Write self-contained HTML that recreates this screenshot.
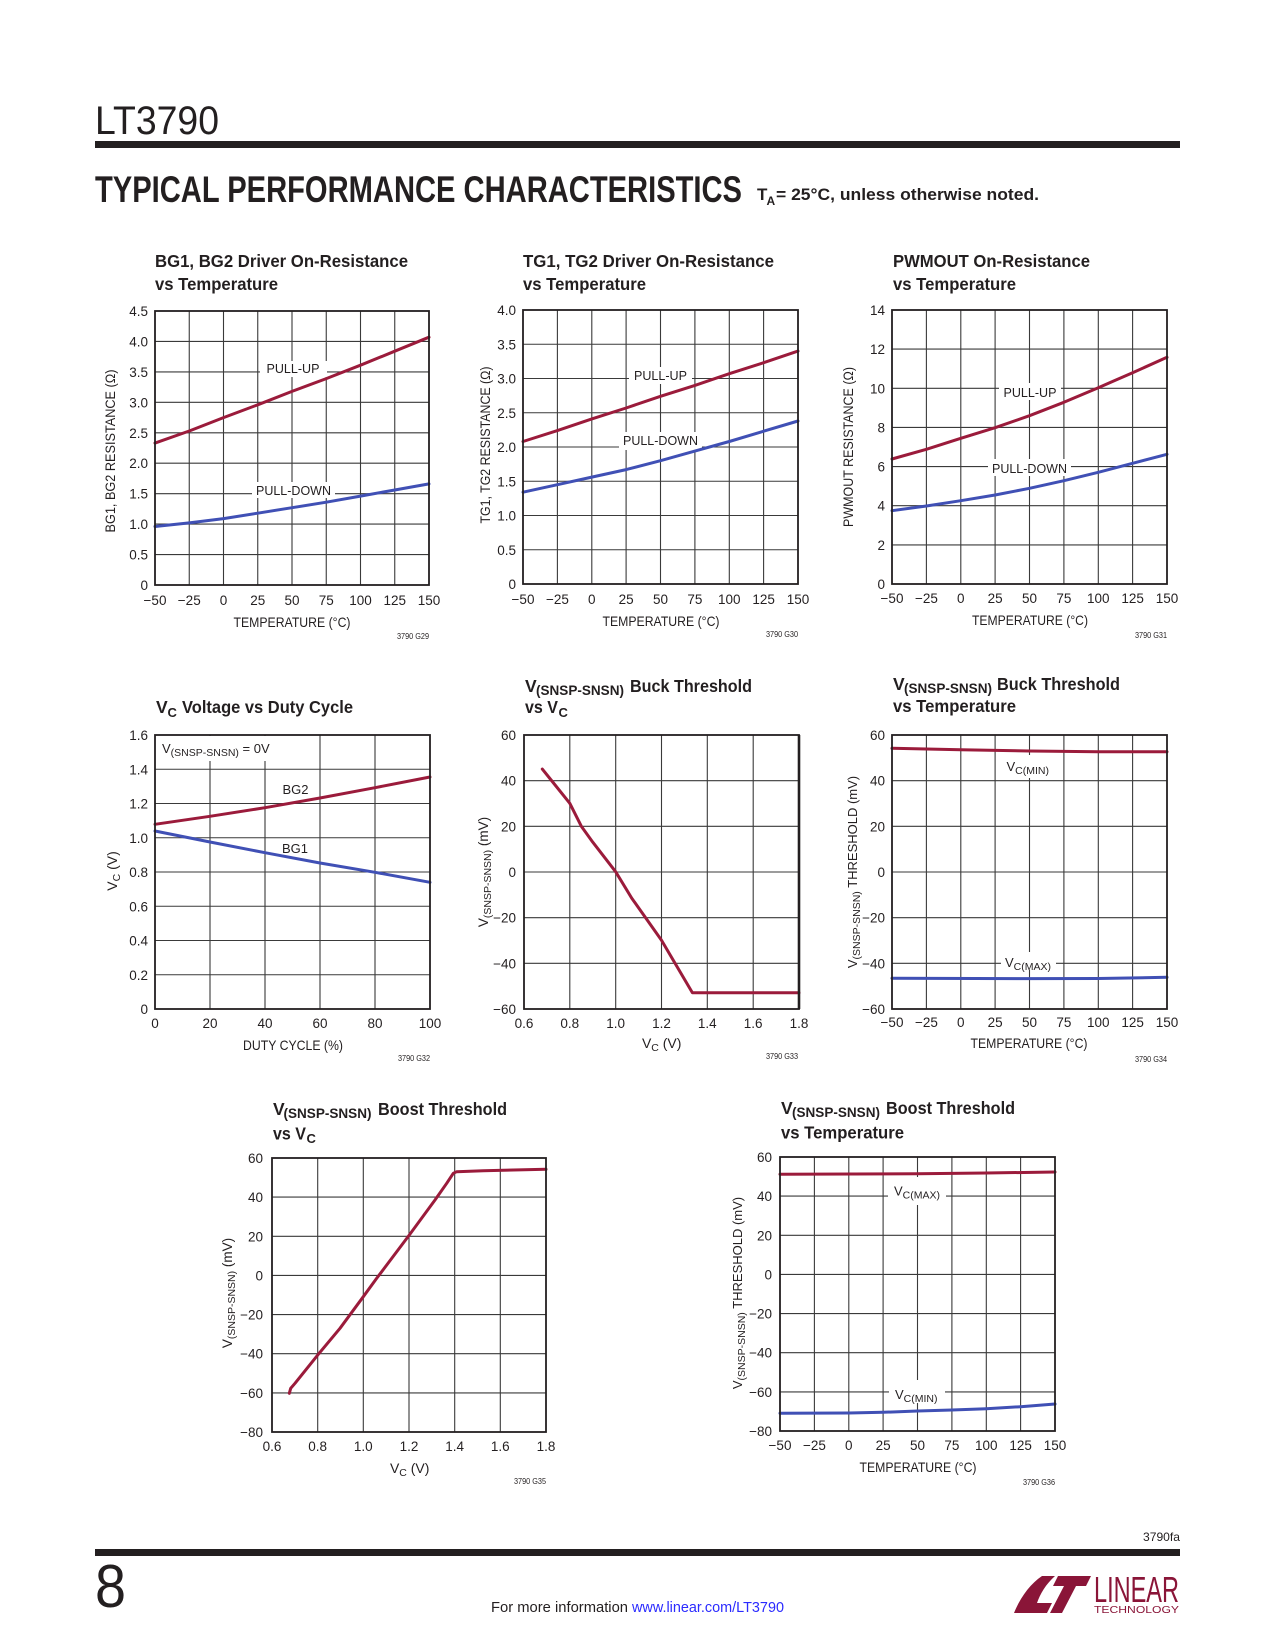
<!DOCTYPE html>
<html><head><meta charset="utf-8">
<style>
html,body{margin:0;padding:0;background:#fff;}
svg{display:block;}
text{font-family:"Liberation Sans",Arial,sans-serif;fill:#231f20;}
.g{stroke:#3a3a3a;stroke-width:1.1;fill:none;}
.f{stroke:#231f20;stroke-width:1.8;fill:none;}
.r{stroke:#9b1b3b;stroke-width:3;fill:none;stroke-linejoin:round;stroke-linecap:round;}
.b{stroke:#4050b5;stroke-width:3;fill:none;stroke-linejoin:round;stroke-linecap:round;}
.t{font-size:13.5px;}
.tt{font-size:17.5px;font-weight:bold;}
.ax{font-size:14px;}
.lb{font-size:13px;}
.id{font-size:8px;}
.w{fill:#fff;stroke:none;}
</style></head>
<body>
<svg width="1275" height="1650" viewBox="0 0 1275 1650" xmlns="http://www.w3.org/2000/svg">
<rect width="1275" height="1650" fill="#fff"/>

<!-- HEADER -->
<text x="95" y="134" style="font-size:40px;" textLength="124" lengthAdjust="spacingAndGlyphs">LT3790</text>
<rect x="95" y="141" width="1085" height="7" fill="#231f20"/>
<text x="95" y="202" style="font-size:37px;font-weight:bold;" textLength="647" lengthAdjust="spacingAndGlyphs">TYPICAL PERFORMANCE CHARACTERISTICS</text>
<text x="757" y="200" style="font-size:17px;font-weight:bold;">T</text>
<text x="766.5" y="205" style="font-size:12px;font-weight:bold;">A</text>
<text x="776" y="200" style="font-size:17px;font-weight:bold;" textLength="263" lengthAdjust="spacingAndGlyphs">= 25°C, unless otherwise noted.</text>

<!-- ================= CHART A ================= -->
<text x="155" y="267" class="tt" textLength="253" lengthAdjust="spacingAndGlyphs">BG1, BG2 Driver On-Resistance</text>
<text x="155" y="290" class="tt" textLength="123" lengthAdjust="spacingAndGlyphs">vs Temperature</text>
<path class="g" d="M189.25 311V585M223.5 311V585M257.75 311V585M292 311V585M326.25 311V585M360.5 311V585M394.75 311V585M155 341.44H429M155 371.89H429M155 402.33H429M155 432.78H429M155 463.22H429M155 493.67H429M155 524.11H429M155 554.56H429"/>
<rect class="w" x="260" y="361" width="67" height="16"/>
<rect class="w" x="252" y="482" width="83" height="16"/>
<polyline class="r" points="155,443.1 189.25,431 223.5,417.6 257.75,404.8 292,391.4 326.25,378.6 360.5,365.2 394.75,351.2 429,337.2"/>
<polyline class="b" points="155,526.5 189.25,522.9 223.5,518.6 257.75,513.2 292,507.7 326.25,502.2 360.5,496.1 394.75,490 429,483.9"/>
<rect class="f" x="155" y="311" width="274" height="274"/>
<text x="293" y="373" class="lb" text-anchor="middle" textLength="53" lengthAdjust="spacingAndGlyphs">PULL-UP</text>
<text x="293.5" y="495" class="lb" text-anchor="middle" textLength="75" lengthAdjust="spacingAndGlyphs">PULL-DOWN</text>
<g class="t" text-anchor="end">
<text x="148" y="316">4.5</text><text x="148" y="346.4">4.0</text><text x="148" y="376.9">3.5</text><text x="148" y="407.3">3.0</text><text x="148" y="437.8">2.5</text><text x="148" y="468.2">2.0</text><text x="148" y="498.7">1.5</text><text x="148" y="529.1">1.0</text><text x="148" y="559.6">0.5</text><text x="148" y="590">0</text>
</g>
<g class="t" text-anchor="middle">
<text x="155" y="605">−50</text><text x="189.25" y="605">−25</text><text x="223.5" y="605">0</text><text x="257.75" y="605">25</text><text x="292" y="605">50</text><text x="326.25" y="605">75</text><text x="360.5" y="605">100</text><text x="394.75" y="605">125</text><text x="429" y="605">150</text>
</g>
<text x="292" y="627" class="ax" text-anchor="middle" textLength="117" lengthAdjust="spacingAndGlyphs">TEMPERATURE (°C)</text>
<text transform="translate(115,451) rotate(-90)" class="ax" text-anchor="middle" textLength="163" lengthAdjust="spacingAndGlyphs">BG1, BG2 RESISTANCE (Ω)</text>
<text x="429" y="639" class="id" text-anchor="end" textLength="32" lengthAdjust="spacingAndGlyphs">3790 G29</text>

<!-- ================= CHART B ================= -->
<text x="523" y="267" class="tt" textLength="251" lengthAdjust="spacingAndGlyphs">TG1, TG2 Driver On-Resistance</text>
<text x="523" y="290" class="tt" textLength="123" lengthAdjust="spacingAndGlyphs">vs Temperature</text>
<path class="g" d="M557.4 310V584M591.8 310V584M626.1 310V584M660.5 310V584M694.9 310V584M729.3 310V584M763.6 310V584M523 344.25H798M523 378.5H798M523 412.75H798M523 447H798M523 481.25H798M523 515.5H798M523 549.75H798"/>
<rect class="w" x="629" y="367" width="63" height="17"/>
<rect class="w" x="619" y="432" width="83" height="18"/>
<polyline class="r" points="523,441.5 557.4,430.6 591.8,418.9 626.1,408 660.5,396.3 694.9,385.4 729.3,373.7 763.6,362.7 798,351.1"/>
<polyline class="b" points="523,492.2 557.4,484.7 591.8,477.1 626.1,469.6 660.5,460.7 694.9,451.1 729.3,441.5 763.6,431.2 798,421"/>
<rect class="f" x="523" y="310" width="275" height="274"/>
<text x="660.5" y="380" class="lb" text-anchor="middle" textLength="53" lengthAdjust="spacingAndGlyphs">PULL-UP</text>
<text x="660.5" y="445" class="lb" text-anchor="middle" textLength="75" lengthAdjust="spacingAndGlyphs">PULL-DOWN</text>
<g class="t" text-anchor="end">
<text x="516" y="315">4.0</text><text x="516" y="349.3">3.5</text><text x="516" y="383.5">3.0</text><text x="516" y="417.8">2.5</text><text x="516" y="452">2.0</text><text x="516" y="486.3">1.5</text><text x="516" y="520.5">1.0</text><text x="516" y="554.8">0.5</text><text x="516" y="589">0</text>
</g>
<g class="t" text-anchor="middle">
<text x="523" y="604">−50</text><text x="557.4" y="604">−25</text><text x="591.8" y="604">0</text><text x="626.1" y="604">25</text><text x="660.5" y="604">50</text><text x="694.9" y="604">75</text><text x="729.3" y="604">100</text><text x="763.6" y="604">125</text><text x="798" y="604">150</text>
</g>
<text x="661" y="626" class="ax" text-anchor="middle" textLength="117" lengthAdjust="spacingAndGlyphs">TEMPERATURE (°C)</text>
<text transform="translate(490,445) rotate(-90)" class="ax" text-anchor="middle" textLength="157" lengthAdjust="spacingAndGlyphs">TG1, TG2 RESISTANCE (Ω)</text>
<text x="798" y="637" class="id" text-anchor="end" textLength="32" lengthAdjust="spacingAndGlyphs">3790 G30</text>

<!-- ================= CHART C ================= -->
<text x="893" y="267" class="tt" textLength="197" lengthAdjust="spacingAndGlyphs">PWMOUT On-Resistance</text>
<text x="893" y="290" class="tt" textLength="123" lengthAdjust="spacingAndGlyphs">vs Temperature</text>
<path class="g" d="M926.4 310V584M960.8 310V584M995.1 310V584M1029.5 310V584M1063.9 310V584M1098.3 310V584M1132.6 310V584M892 349.1H1167M892 388.3H1167M892 427.4H1167M892 466.6H1167M892 505.7H1167M892 544.9H1167"/>
<rect class="w" x="999" y="383" width="62" height="17"/>
<rect class="w" x="988" y="459" width="83" height="17"/>
<polyline class="r" points="892,459 926.4,449.3 960.8,438.3 995.1,427.7 1029.5,415.7 1063.9,402.3 1098.3,387.7 1132.6,372.7 1167,357.3"/>
<polyline class="b" points="892,510.7 926.4,506 960.8,500.7 995.1,495 1029.5,488.3 1063.9,480.7 1098.3,472.3 1132.6,463.3 1167,454.3"/>
<rect class="f" x="892" y="310" width="275" height="274"/>
<text x="1030" y="397" class="lb" text-anchor="middle" textLength="53" lengthAdjust="spacingAndGlyphs">PULL-UP</text>
<text x="1029.5" y="473" class="lb" text-anchor="middle" textLength="75" lengthAdjust="spacingAndGlyphs">PULL-DOWN</text>
<g class="t" text-anchor="end">
<text x="885" y="315">14</text><text x="885" y="354.1">12</text><text x="885" y="393.3">10</text><text x="885" y="432.4">8</text><text x="885" y="471.6">6</text><text x="885" y="510.7">4</text><text x="885" y="549.9">2</text><text x="885" y="589">0</text>
</g>
<g class="t" text-anchor="middle">
<text x="892" y="603">−50</text><text x="926.4" y="603">−25</text><text x="960.8" y="603">0</text><text x="995.1" y="603">25</text><text x="1029.5" y="603">50</text><text x="1063.9" y="603">75</text><text x="1098.3" y="603">100</text><text x="1132.6" y="603">125</text><text x="1167" y="603">150</text>
</g>
<text x="1030" y="625" class="ax" text-anchor="middle" textLength="116" lengthAdjust="spacingAndGlyphs">TEMPERATURE (°C)</text>
<text transform="translate(853,447) rotate(-90)" class="ax" text-anchor="middle" textLength="160" lengthAdjust="spacingAndGlyphs">PWMOUT RESISTANCE (Ω)</text>
<text x="1167" y="638" class="id" text-anchor="end" textLength="32" lengthAdjust="spacingAndGlyphs">3790 G31</text>

<!-- ================= CHART D ================= -->
<text x="156" y="713" class="tt">V</text>
<text x="167.5" y="717" style="font-size:13px;font-weight:bold;">C</text>
<text x="182" y="713" class="tt" textLength="171" lengthAdjust="spacingAndGlyphs">Voltage vs Duty Cycle</text>
<path class="g" d="M210 735V1009M265 735V1009M320 735V1009M375 735V1009M155 769.25H430M155 803.5H430M155 837.75H430M155 872H430M155 906.25H430M155 940.5H430M155 974.75H430"/>
<rect class="w" x="156" y="736" width="112" height="25"/>
<polyline class="r" points="155,824.3 210,816.3 265,807.7 320,798 375,787.7 430,777"/>
<polyline class="b" points="155,831 210,842 265,852.7 320,863 375,872.3 430,882.3"/>
<rect class="f" x="155" y="735" width="275" height="274"/>
<text x="162" y="753" class="lb">V<tspan dy="3" style="font-size:10.5px;">(SNSP-SNSN)</tspan><tspan dy="-3"> = 0V</tspan></text>
<text x="295.5" y="794" class="lb" text-anchor="middle">BG2</text>
<text x="295" y="853" class="lb" text-anchor="middle">BG1</text>
<g class="t" text-anchor="end">
<text x="148" y="740">1.6</text><text x="148" y="774.3">1.4</text><text x="148" y="808.5">1.2</text><text x="148" y="842.8">1.0</text><text x="148" y="877">0.8</text><text x="148" y="911.3">0.6</text><text x="148" y="945.5">0.4</text><text x="148" y="979.8">0.2</text><text x="148" y="1014">0</text>
</g>
<g class="t" text-anchor="middle">
<text x="155" y="1028">0</text><text x="210" y="1028">20</text><text x="265" y="1028">40</text><text x="320" y="1028">60</text><text x="375" y="1028">80</text><text x="430" y="1028">100</text>
</g>
<text x="293" y="1050" class="ax" text-anchor="middle" textLength="100" lengthAdjust="spacingAndGlyphs">DUTY CYCLE (%)</text>
<text transform="translate(117,871) rotate(-90)" class="ax" text-anchor="middle">V<tspan dy="3" style="font-size:10.5px;">C</tspan><tspan dy="-3"> (V)</tspan></text>
<text x="430" y="1061" class="id" text-anchor="end" textLength="32" lengthAdjust="spacingAndGlyphs">3790 G32</text>

<!-- ================= CHART E ================= -->
<text x="525" y="692" class="tt">V</text>
<text x="536" y="695" style="font-size:14px;font-weight:bold;" textLength="88" lengthAdjust="spacingAndGlyphs">(SNSP-SNSN)</text>
<text x="630" y="692" class="tt" textLength="122" lengthAdjust="spacingAndGlyphs">Buck Threshold</text>
<text x="525" y="713" class="tt" textLength="33" lengthAdjust="spacingAndGlyphs">vs V</text>
<text x="558.5" y="717" style="font-size:13px;font-weight:bold;">C</text>
<path class="g" d="M569.8 735V1009M615.7 735V1009M661.5 735V1009M707.3 735V1009M753.2 735V1009M524 780.7H799M524 826.3H799M524 872H799M524 917.7H799M524 963.3H799"/>
<polyline class="r" points="542.3,769.1 551.5,780.5 569.8,803.3 581.3,826.2 592.8,842.2 615.7,871.8 631.7,898.1 661.5,940.3 692.4,992.8 693.6,992.8 799,992.8"/>
<rect class="f" x="524" y="735" width="275" height="274"/>
<line x1="799" y1="735" x2="799" y2="1009" stroke="#231f20" stroke-width="2.6"/>
<g class="t" text-anchor="end">
<text x="516" y="740">60</text><text x="516" y="785.7">40</text><text x="516" y="831.3">20</text><text x="516" y="877">0</text><text x="516" y="922.7">−20</text><text x="516" y="968.3">−40</text><text x="516" y="1014">−60</text>
</g>
<g class="t" text-anchor="middle">
<text x="524" y="1028">0.6</text><text x="569.8" y="1028">0.8</text><text x="615.7" y="1028">1.0</text><text x="661.5" y="1028">1.2</text><text x="707.3" y="1028">1.4</text><text x="753.2" y="1028">1.6</text><text x="799" y="1028">1.8</text>
</g>
<text x="661.7" y="1048" class="ax" text-anchor="middle">V<tspan dy="3" style="font-size:10.5px;">C</tspan><tspan dy="-3"> (V)</tspan></text>
<text transform="translate(488,872) rotate(-90)" style="font-size:13.5px;" text-anchor="middle">V<tspan dy="3" style="font-size:10.5px;">(SNSP-SNSN)</tspan><tspan dy="-3"> (mV)</tspan></text>
<text x="798" y="1059" class="id" text-anchor="end" textLength="32" lengthAdjust="spacingAndGlyphs">3790 G33</text>

<!-- ================= CHART F ================= -->
<text x="893" y="690" class="tt">V</text>
<text x="904" y="693" style="font-size:14px;font-weight:bold;" textLength="88" lengthAdjust="spacingAndGlyphs">(SNSP-SNSN)</text>
<text x="997" y="690" class="tt" textLength="123" lengthAdjust="spacingAndGlyphs">Buck Threshold</text>
<text x="893" y="712" class="tt" textLength="123" lengthAdjust="spacingAndGlyphs">vs Temperature</text>
<path class="g" d="M926.4 735V1009M960.8 735V1009M995.1 735V1009M1029.5 735V1009M1063.9 735V1009M1098.3 735V1009M1132.6 735V1009M892 780.7H1167M892 826.3H1167M892 872H1167M892 917.7H1167M892 963.3H1167"/>
<rect class="w" x="1002" y="755" width="53" height="23"/>
<rect class="w" x="1001" y="952" width="55" height="18"/>
<polyline class="r" points="892,748.3 960.8,749.8 1029.5,751 1098.3,751.7 1167,751.7"/>
<polyline class="b" points="892,978.3 1029.5,978.6 1098.3,978.5 1167,977.3"/>
<rect class="f" x="892" y="735" width="275" height="274"/>
<text x="1006.5" y="771" class="lb">V<tspan dy="3" style="font-size:10.5px;">C(MIN)</tspan></text>
<text x="1005" y="967" class="lb">V<tspan dy="3" style="font-size:10.5px;">C(MAX)</tspan></text>
<g class="t" text-anchor="end">
<text x="885" y="740">60</text><text x="885" y="785.7">40</text><text x="885" y="831.3">20</text><text x="885" y="877">0</text><text x="885" y="922.7">−20</text><text x="885" y="968.3">−40</text><text x="885" y="1014">−60</text>
</g>
<g class="t" text-anchor="middle">
<text x="892" y="1027">−50</text><text x="926.4" y="1027">−25</text><text x="960.8" y="1027">0</text><text x="995.1" y="1027">25</text><text x="1029.5" y="1027">50</text><text x="1063.9" y="1027">75</text><text x="1098.3" y="1027">100</text><text x="1132.6" y="1027">125</text><text x="1167" y="1027">150</text>
</g>
<text x="1029" y="1048" class="ax" text-anchor="middle" textLength="117" lengthAdjust="spacingAndGlyphs">TEMPERATURE (°C)</text>
<text transform="translate(857,872) rotate(-90)" style="font-size:13px;" text-anchor="middle">V<tspan dy="3" style="font-size:10.5px;">(SNSP-SNSN)</tspan><tspan dy="-3"> THRESHOLD (mV)</tspan></text>
<text x="1167" y="1062" class="id" text-anchor="end" textLength="32" lengthAdjust="spacingAndGlyphs">3790 G34</text>

<!-- ================= CHART G ================= -->
<text x="273" y="1115" class="tt">V</text>
<text x="283.5" y="1118" style="font-size:14px;font-weight:bold;" textLength="88" lengthAdjust="spacingAndGlyphs">(SNSP-SNSN)</text>
<text x="378" y="1115" class="tt" textLength="129" lengthAdjust="spacingAndGlyphs">Boost Threshold</text>
<text x="273" y="1139.5" class="tt" textLength="33" lengthAdjust="spacingAndGlyphs">vs V</text>
<text x="306.5" y="1143" style="font-size:13px;font-weight:bold;">C</text>
<path class="g" d="M317.7 1158V1432M363.3 1158V1432M409 1158V1432M454.7 1158V1432M500.3 1158V1432M272 1197.1H546M272 1236.3H546M272 1275.4H546M272 1314.6H546M272 1353.7H546M272 1392.9H546"/>
<polyline class="r" points="289.3,1393.3 290.7,1388.3 295,1383.3 318.3,1354.3 340,1328.3 363.3,1296.7 376.7,1278.3 409.3,1235 435,1200 446.7,1183.3 453.3,1173.3 456.7,1171.7 483.3,1170.7 546,1169.3"/>
<rect class="f" x="272" y="1158" width="274" height="274"/>
<g class="t" text-anchor="end">
<text x="263" y="1163">60</text><text x="263" y="1202.1">40</text><text x="263" y="1241.3">20</text><text x="263" y="1280.4">0</text><text x="263" y="1319.6">−20</text><text x="263" y="1358.7">−40</text><text x="263" y="1397.9">−60</text><text x="263" y="1437">−80</text>
</g>
<g class="t" text-anchor="middle">
<text x="272" y="1451">0.6</text><text x="317.7" y="1451">0.8</text><text x="363.3" y="1451">1.0</text><text x="409" y="1451">1.2</text><text x="454.7" y="1451">1.4</text><text x="500.3" y="1451">1.6</text><text x="546" y="1451">1.8</text>
</g>
<text x="409.7" y="1473" class="ax" text-anchor="middle">V<tspan dy="3" style="font-size:10.5px;">C</tspan><tspan dy="-3"> (V)</tspan></text>
<text transform="translate(232,1293) rotate(-90)" style="font-size:13.5px;" text-anchor="middle">V<tspan dy="3" style="font-size:10.5px;">(SNSP-SNSN)</tspan><tspan dy="-3"> (mV)</tspan></text>
<text x="546" y="1484" class="id" text-anchor="end" textLength="32" lengthAdjust="spacingAndGlyphs">3790 G35</text>

<!-- ================= CHART H ================= -->
<text x="781" y="1114" class="tt">V</text>
<text x="792" y="1117" style="font-size:14px;font-weight:bold;" textLength="88" lengthAdjust="spacingAndGlyphs">(SNSP-SNSN)</text>
<text x="886" y="1114" class="tt" textLength="129" lengthAdjust="spacingAndGlyphs">Boost Threshold</text>
<text x="781" y="1138.5" class="tt" textLength="123" lengthAdjust="spacingAndGlyphs">vs Temperature</text>
<path class="g" d="M814.4 1157V1431M848.8 1157V1431M883.1 1157V1431M917.5 1157V1431M951.9 1157V1431M986.3 1157V1431M1020.6 1157V1431M780 1196.1H1055M780 1235.3H1055M780 1274.4H1055M780 1313.6H1055M780 1352.7H1055M780 1391.9H1055"/>
<rect class="w" x="888" y="1177" width="58" height="28"/>
<rect class="w" x="889" y="1380" width="56" height="23"/>
<polyline class="r" points="780,1174.3 917.5,1173.8 986.3,1173 1055,1172"/>
<polyline class="b" points="780,1413.3 848.8,1413 883.1,1412.3 917.5,1411 951.9,1410 986.3,1408.7 1020.6,1406.7 1055,1404"/>
<rect class="f" x="780" y="1157" width="275" height="274"/>
<text x="894" y="1195.7" class="lb">V<tspan dy="3" style="font-size:10.5px;">C(MAX)</tspan></text>
<text x="895" y="1399" class="lb">V<tspan dy="3" style="font-size:10.5px;">C(MIN)</tspan></text>
<g class="t" text-anchor="end">
<text x="772" y="1162">60</text><text x="772" y="1201.1">40</text><text x="772" y="1240.3">20</text><text x="772" y="1279.4">0</text><text x="772" y="1318.6">−20</text><text x="772" y="1357.7">−40</text><text x="772" y="1396.9">−60</text><text x="772" y="1436">−80</text>
</g>
<g class="t" text-anchor="middle">
<text x="780" y="1450">−50</text><text x="814.4" y="1450">−25</text><text x="848.8" y="1450">0</text><text x="883.1" y="1450">25</text><text x="917.5" y="1450">50</text><text x="951.9" y="1450">75</text><text x="986.3" y="1450">100</text><text x="1020.6" y="1450">125</text><text x="1055" y="1450">150</text>
</g>
<text x="918" y="1472" class="ax" text-anchor="middle" textLength="117" lengthAdjust="spacingAndGlyphs">TEMPERATURE (°C)</text>
<text transform="translate(742,1293) rotate(-90)" style="font-size:13px;" text-anchor="middle">V<tspan dy="3" style="font-size:10.5px;">(SNSP-SNSN)</tspan><tspan dy="-3"> THRESHOLD (mV)</tspan></text>
<text x="1055" y="1485" class="id" text-anchor="end" textLength="32" lengthAdjust="spacingAndGlyphs">3790 G36</text>

<!-- FOOTER -->
<text x="1180" y="1541" style="font-size:12px;" text-anchor="end" textLength="37" lengthAdjust="spacingAndGlyphs">3790fa</text>
<rect x="95" y="1549" width="1085" height="7" fill="#231f20"/>
<text x="95" y="1607" style="font-size:60px;" textLength="31" lengthAdjust="spacingAndGlyphs">8</text>
<text x="491" y="1612" style="font-size:15px;" textLength="137" lengthAdjust="spacingAndGlyphs">For more information</text>
<text x="632" y="1612" style="font-size:15px;fill:#2b2bff;" textLength="152" lengthAdjust="spacingAndGlyphs">www.linear.com/LT3790</text>
<!-- logo -->
<path d="M1014,1613 C1020,1598 1030,1584 1042,1576 L1055,1576 C1046,1584 1040,1594 1037,1603 L1052,1603 L1047,1613 Z" fill="#8a1538"/>
<path d="M1058,1576 L1091,1576 L1086,1586 L1076,1586 L1062,1613 L1050,1613 L1064,1586 L1053,1586 Z" fill="#8a1538"/>
<text x="1094" y="1602" style="font-size:36px;fill:#8a1538;" textLength="85" lengthAdjust="spacingAndGlyphs">LINEAR</text>
<text x="1094" y="1613" style="font-size:10px;fill:#8a1538;" textLength="85" lengthAdjust="spacingAndGlyphs">TECHNOLOGY</text>
</svg>
</body></html>
